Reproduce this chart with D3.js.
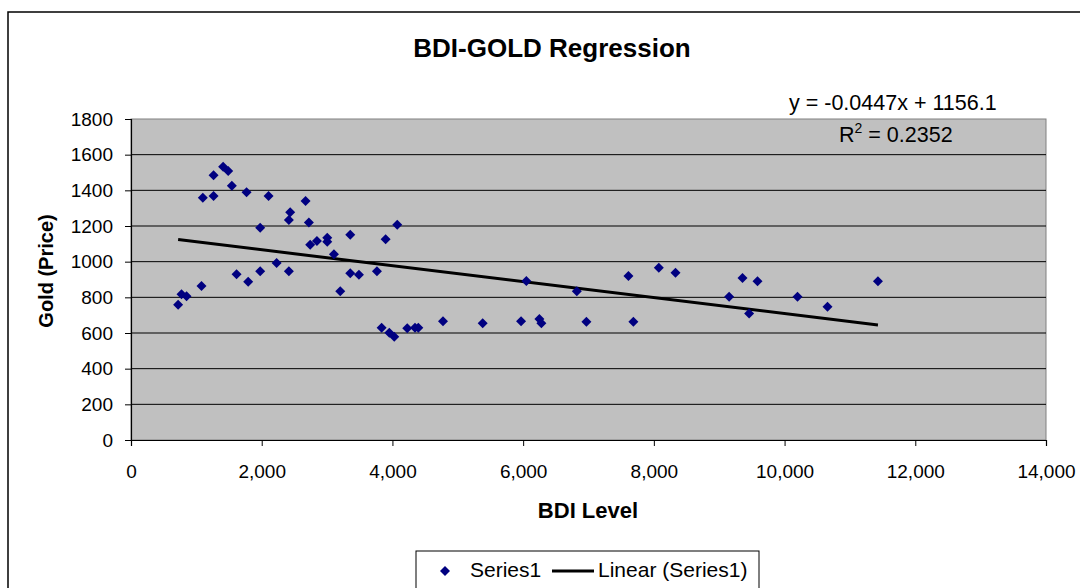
<!DOCTYPE html>
<html>
<head>
<meta charset="utf-8">
<script src="https://cdn.jsdelivr.net/npm/d3@7"></script>
<style>
    body { margin: 0; background: #ffffff; }
    #chart { width: 1080px; height: 588px; }
    text { font-family: "Liberation Sans", Arial, sans-serif; fill: #000; }
</style>
</head>
<body>
<div id="chart"></div>
<script>

    // BDI level (x) and gold price (y)
    var bdi = [721, 773, 850, 1079, 1099, 1263, 1263, 1410, 1487, 1543,
               1768, 1615, 1793, 1977, 1977, 2105, 2228, 2416, 2416, 2436,
               2671, 2722, 2742, 2845, 3003, 3003, 3105, 3202, 3355, 3355,
               3488, 3763, 3896, 4074, 3835, 3952, 4028, 4227, 4345, 4396,
               4774, 5381, 5968, 6049, 6248, 6279, 6821, 6968, 7611, 7687,
               8076, 8331, 9152, 9356, 9586, 9458, 10198, 10657, 11429];

    var gold = [759, 817, 806, 863, 1359, 1368, 1484, 1532, 1508, 1426,
                1389, 929, 888, 1190, 946, 1368, 992, 946, 1234, 1277,
                1340, 1219, 1095, 1116, 1134, 1112, 1041, 834, 1151, 935,
                927, 946, 1125, 1207, 630, 602, 579, 626, 630, 630,
                666, 654, 666, 892, 678, 654, 834, 663, 920, 663,
                966, 938, 803, 908, 890, 710, 803, 747, 890];

    var xTicks = [0, 2000, 4000, 6000, 8000, 10000, 12000, 14000];
    var yTicks = [0, 200, 400, 600, 800, 1000, 1200, 1400, 1600, 1800];

    // trendline shown on the chart
    var slope = -0.0447;
    var intercept = 1156.1;
    var rSquared = 0.2352;


    var width = 1080;
    var height = 588;

    var plot = {left: 131, right: 1046, top: 119, bottom: 440};

    var svg = d3.select("#chart")
        .append("svg")
        .attr("width", width)
        .attr("height", height);

    // outer chart border (runs off the right and bottom of the picture)
    svg.append("rect")
        .attr("x", 8)
        .attr("y", 12)
        .attr("width", width)
        .attr("height", height)
        .attr("fill", "#ffffff")
        .attr("stroke", "#000")
        .attr("stroke-width", 1.5);

    var xScale = d3.scaleLinear()
        .domain([0, 14000])
        .range([plot.left, plot.right]);

    var yScale = d3.scaleLinear()
        .domain([0, 1800])
        .range([plot.bottom, plot.top]);

    svg.append("rect")
        .attr("x", plot.left)
        .attr("y", plot.top)
        .attr("width", plot.right - plot.left)
        .attr("height", plot.bottom - plot.top)
        .attr("fill", "#c0c0c0")
        .attr("stroke", "#808080")
        .attr("stroke-width", 1);

    // gridlines
    svg.selectAll("line.grid")
        .data(yTicks.filter(function(d) { return d > 0 && d < 1800; }))
        .enter()
        .append("line")
            .attr("class", "grid")
            .attr("x1", plot.left)
            .attr("x2", plot.right)
            .attr("y1", function(d) { return yScale(d); })
            .attr("y2", function(d) { return yScale(d); })
            .attr("stroke", "#000")
            .attr("stroke-width", 1);

    var xAxis = svg.append("g")
        .attr("transform", "translate(0," + plot.bottom + ")")
        .call(d3.axisBottom(xScale)
            .tickValues(xTicks)
            .tickSize(6)
            .tickPadding(19)
            .tickFormat(d3.format(",")));

    var yAxis = svg.append("g")
        .attr("transform", "translate(" + plot.left + ",0)")
        .call(d3.axisLeft(yScale)
            .tickValues(yTicks)
            .tickSize(6)
            .tickPadding(12)
            .tickFormat(d3.format("d")));

    svg.selectAll(".tick text")
        .style("font-size", "19px")
        .style("font-family", "'Liberation Sans', Arial, sans-serif");

    svg.selectAll(".domain").attr("stroke", "#000").attr("stroke-width", 1.2);
    svg.selectAll(".tick line").attr("stroke", "#000");

    // regression line across the data range
    var xExtent = d3.extent(bdi);
    svg.append("line")
        .attr("x1", xScale(xExtent[0]))
        .attr("y1", yScale(slope * xExtent[0] + intercept))
        .attr("x2", xScale(xExtent[1]))
        .attr("y2", yScale(slope * xExtent[1] + intercept))
        .attr("stroke", "#000")
        .attr("stroke-width", 3);

    var diamond = d3.symbol().type(d3.symbolSquare).size(50);

    svg.selectAll("path.pt")
        .data(bdi)
        .enter()
        .append("path")
            .attr("class", "pt")
            .attr("d", diamond)
            .attr("fill", "#000080")
            .attr("transform", function(d, i) {
                return "translate(" + xScale(d) + "," + yScale(gold[i]) + ") rotate(45)";
            });

    // titles
    svg.append("text")
        .attr("x", 552)
        .attr("y", 57)
        .attr("text-anchor", "middle")
        .style("font-size", "26px")
        .style("font-weight", "bold")
        .text("BDI-GOLD Regression");

    svg.append("text")
        .attr("x", 588)
        .attr("y", 518)
        .attr("text-anchor", "middle")
        .style("font-size", "22px")
        .style("font-weight", "bold")
        .text("BDI Level");

    svg.append("text")
        .attr("transform", "translate(53,271) rotate(-90)")
        .attr("text-anchor", "middle")
        .style("font-size", "20px")
        .style("font-weight", "bold")
        .text("Gold (Price)");

    // equation label
    svg.append("text")
        .attr("x", 789)
        .attr("y", 110)
        .style("font-size", "21.5px")
        .text("y = " + slope + "x + " + intercept);

    var rText = svg.append("text")
        .attr("x", 839)
        .attr("y", 142)
        .style("font-size", "21.5px");
    rText.append("tspan").text("R");
    rText.append("tspan")
        .attr("dy", -9)
        .style("font-size", "14px")
        .text("2");
    rText.append("tspan")
        .attr("dy", 9)
        .text(" = " + rSquared);

    // legend
    var legend = svg.append("g");

    legend.append("rect")
        .attr("x", 416)
        .attr("y", 551)
        .attr("width", 343)
        .attr("height", 45)
        .attr("fill", "#fff")
        .attr("stroke", "#000")
        .attr("stroke-width", 1);

    legend.append("path")
        .attr("d", diamond)
        .attr("fill", "#000080")
        .attr("transform", "translate(445,571) rotate(45)");

    legend.append("text")
        .attr("x", 470)
        .attr("y", 577)
        .style("font-size", "21px")
        .text("Series1");

    legend.append("line")
        .attr("x1", 552)
        .attr("x2", 594)
        .attr("y1", 571)
        .attr("y2", 571)
        .attr("stroke", "#000")
        .attr("stroke-width", 3);

    legend.append("text")
        .attr("x", 598)
        .attr("y", 577)
        .style("font-size", "21px")
        .text("Linear (Series1)");

</script>
</body>
</html>
